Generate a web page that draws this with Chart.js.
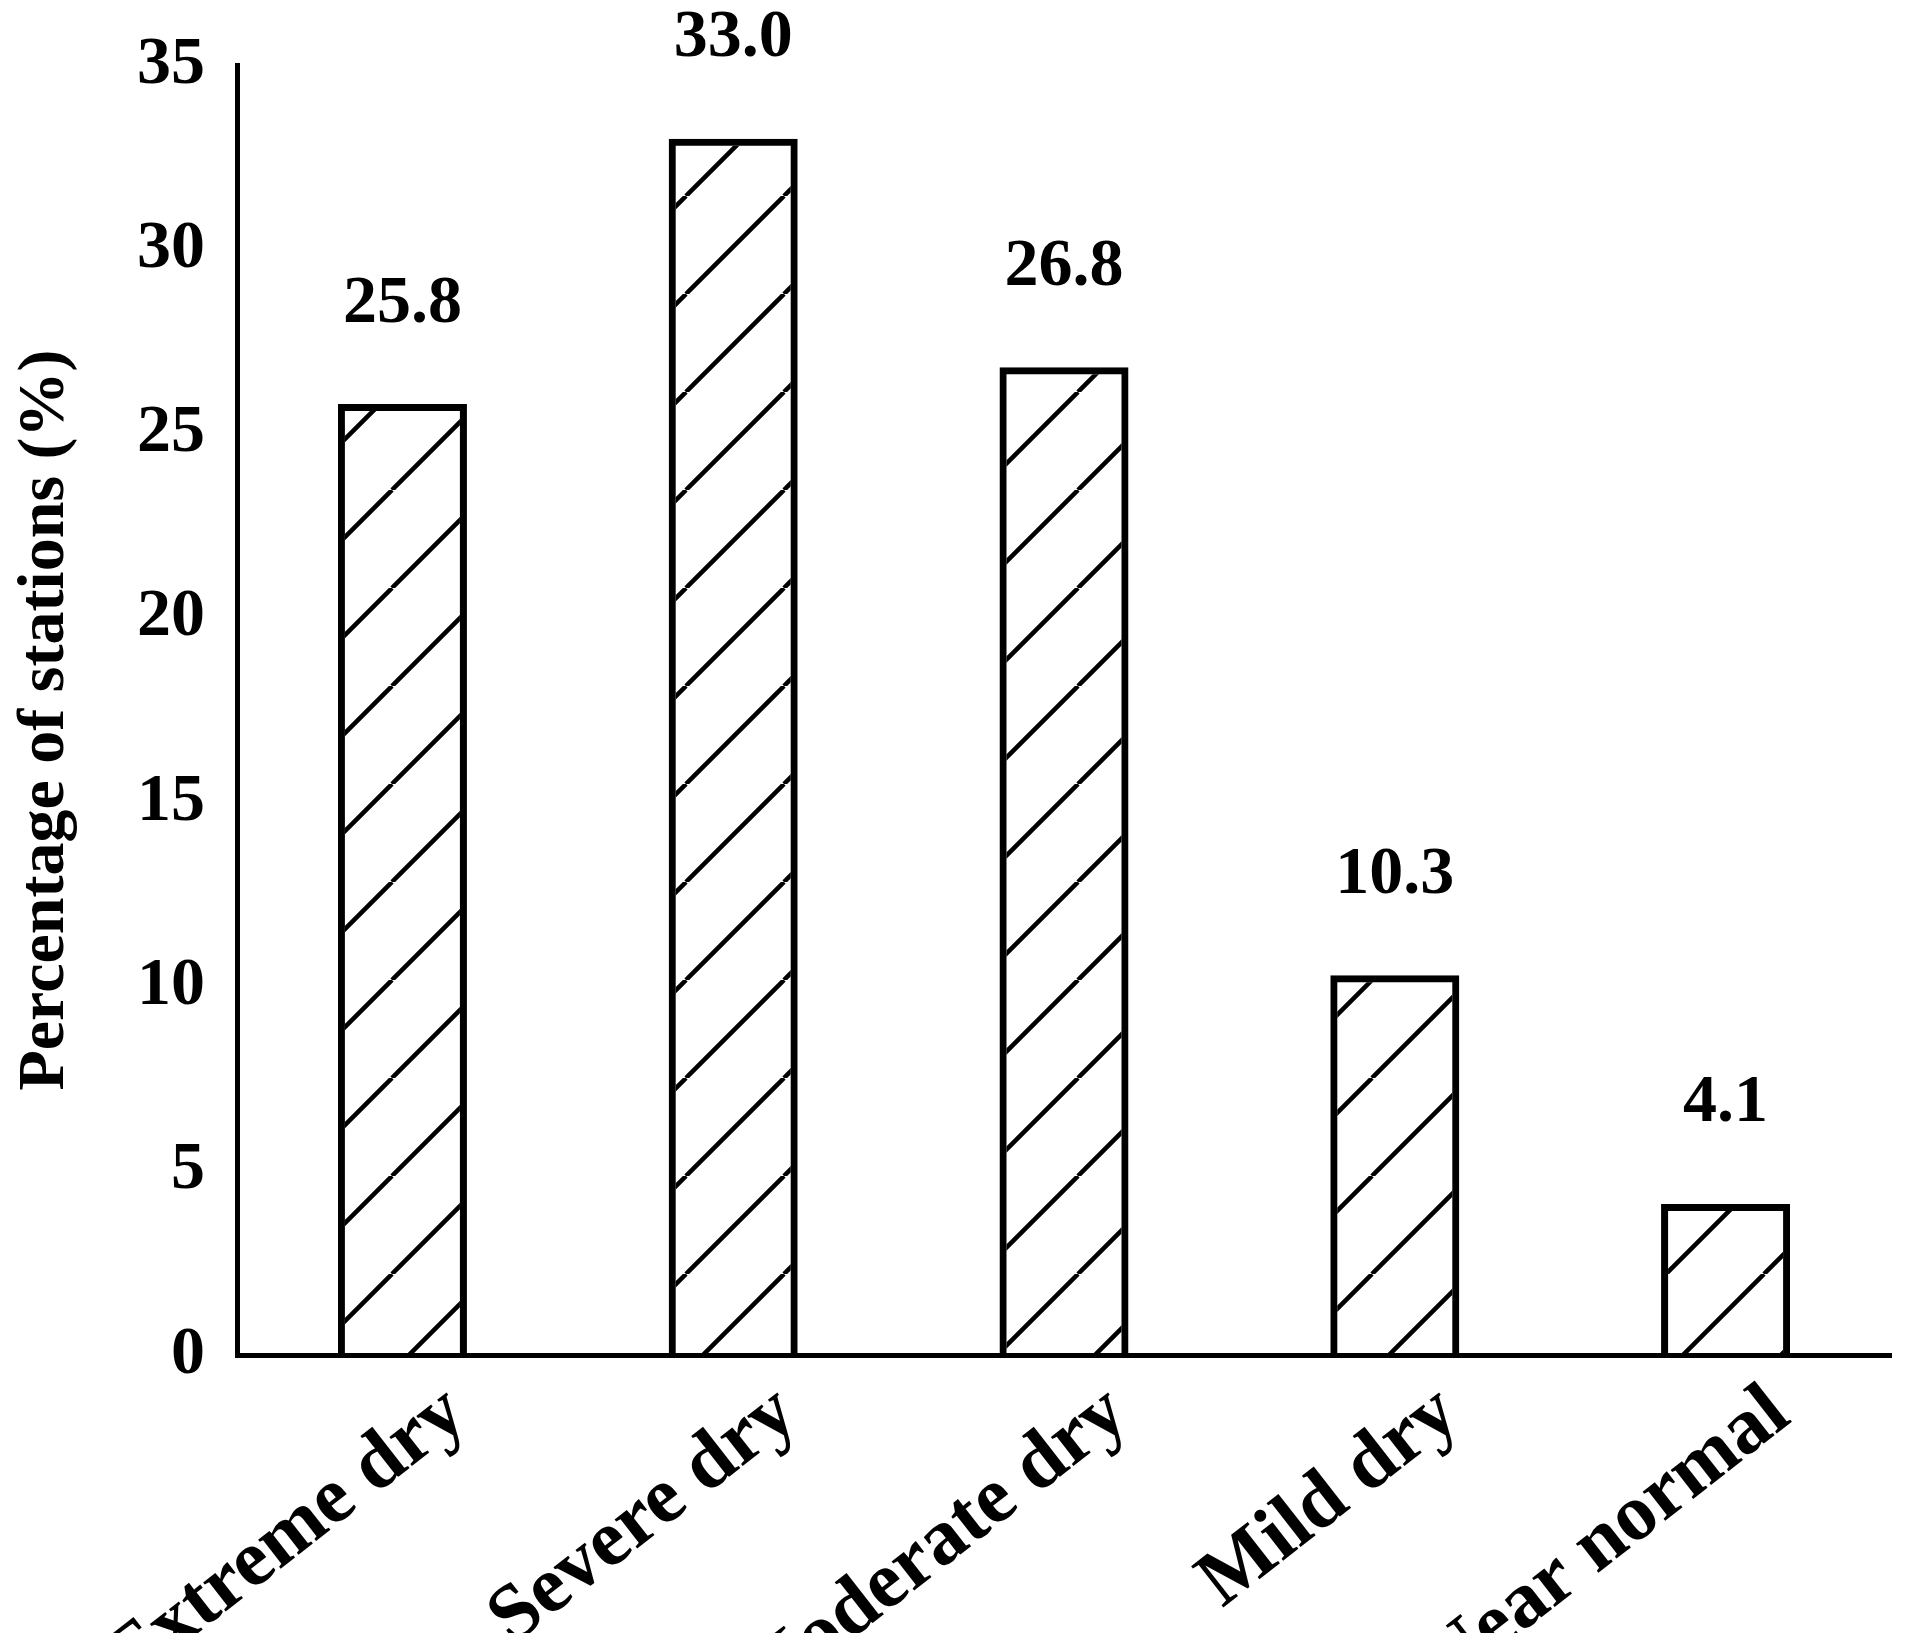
<!DOCTYPE html>
<html><head><meta charset="utf-8">
<script src="https://cdn.jsdelivr.net/npm/chart.js@4"></script>
<style>html,body{margin:0;padding:0;background:#fff}#w{width:1906px;height:1633px}</style>
</head><body><div id="w"><canvas id="c"></canvas></div>
<script>
const categories = ["Extreme dry","Severe dry","Moderate dry","Mild dry","Near normal"];
const values = [25.8, 33.0, 26.8, 10.3, 4.1];
const valueLabels = ["25.8","33.0","26.8","10.3","4.1"];
const yTicks = [0,5,10,15,20,25,30,35];
const FONT = "'Liberation Serif','Times New Roman',serif";

function hatch(){
  const s=98, p=document.createElement('canvas'); p.width=s; p.height=s;
  const g=p.getContext('2d'); g.strokeStyle='#000'; g.lineWidth=4.5;
  g.beginPath();
  for(const o of [-s,0,s]){ g.moveTo(o,s); g.lineTo(o+s,0); }
  g.stroke();
  return g.createPattern(p,'repeat');
}
const ctx=document.getElementById('c').getContext('2d');
const labelPlugin={id:'lab',afterDatasetsDraw(ch){
  const c=ch.ctx, meta=ch.getDatasetMeta(0), xs=ch.scales.x, ys=ch.scales.y;
  c.save(); c.fillStyle='#000';
  c.font="bold 68px "+FONT; c.textAlign='center'; c.textBaseline='middle';
  meta.data.forEach((b,i)=>c.fillText(valueLabels[i], b.x, b.y-100));
  c.font="bold 80px "+FONT; c.textAlign='right'; c.textBaseline='top';
  categories.forEach((t,i)=>{ const x=xs.getPixelForValue(i);
    c.save(); c.translate(x+30, ys.bottom+18); c.rotate(-38*Math.PI/180); c.fillText(t,0,0); c.restore(); });
  c.font="bold 66px "+FONT; c.textAlign='center'; c.textBaseline='middle';
  c.save(); c.translate(46,(ys.top+ys.bottom)/2+10); c.rotate(-Math.PI/2); c.fillText("Percentage of stations (%)",0,0); c.restore();
  c.restore();
}};
new Chart(ctx,{type:'bar',
  data:{labels:categories,datasets:[{data:values,backgroundColor:hatch(),borderColor:'#000',borderWidth:7,
    categoryPercentage:1,barPercentage:0.39}]},
  options:{responsive:true,maintainAspectRatio:false,animation:false,devicePixelRatio:1,
    layout:{padding:{top:65,right:15,bottom:278,left:0}},
    plugins:{legend:{display:false},tooltip:{enabled:false}},
    scales:{
      x:{grid:{display:false,drawTicks:false},border:{color:'#000',width:5},ticks:{display:false}},
      y:{min:0,max:35,afterBuildTicks(s){s.ticks=yTicks.map(v=>({value:v}));},
        afterFit(s){s.width=237;},
        grid:{display:false,drawOnChartArea:false,drawTicks:true,tickLength:18,tickWidth:4,tickColor:'#000'},
        border:{color:'#000',width:5},
        ticks:{color:'#000',padding:14,font:{family:FONT,size:68,weight:'bold'}}}
    }},
  plugins:[labelPlugin]});
</script></body></html>
